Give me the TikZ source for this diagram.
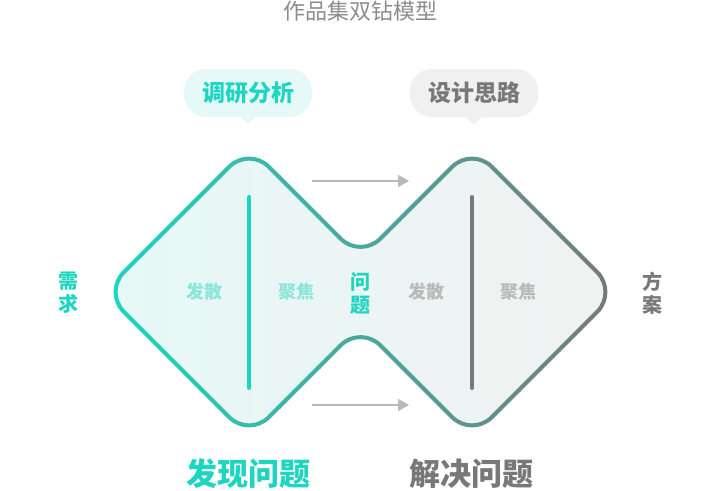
\documentclass[tikz,border=0pt]{standalone}
\usepackage{fontspec}
\setmainfont{Noto Sans CJK SC}
\usetikzlibrary{arrows.meta}

\definecolor{tuerkis}{RGB}{30,213,192}
\definecolor{grau}{RGB}{120,120,120}
\definecolor{tuerkisHell}{RGB}{140,230,218}
\definecolor{grauHell}{RGB}{186,186,186}
\definecolor{flaecheL}{RGB}{229,249,247}
\definecolor{flaecheR}{RGB}{241,241,241}
\definecolor{blaseT}{RGB}{229,249,248}
\definecolor{blaseG}{RGB}{240,240,240}
\definecolor{pfeilGrau}{RGB}{185,185,185}

% Umriss des Doppeldiamanten
\newcommand{\umriss}{(176.5,219.5) -- (249,147) -- (360.5,258.5) -- (472,147) -- (617,292) -- (472,437) -- (360.5,325.5) -- (249,437) -- (104,292) -- cycle}

\begin{document}
\begin{tikzpicture}
	[
	x=1pt, y=-1pt, >=latex,
	%Voreinstellungen
	blase/.style={rounded corners=22pt, minimum width=128pt, minimum height=48pt, inner sep=0pt, font=\bfseries\fontsize{23}{23}\selectfont},
	feld/.style={font=\bfseries\fontsize{18}{18}\selectfont},
	seite/.style={font=\bfseries\fontsize{20}{23}\selectfont, align=center},
	pfeil/.style={-{Triangle[length=11pt, width=12pt]}, pfeilGrau, line width=1.5pt}
	]
	\useasboundingbox (0,0) rectangle (720,490);
	%Titel
	\node[text=grau!85!white, font=\fontsize{22}{22}\selectfont, inner sep=1pt] (titel) at (360,11) {作品集双钻模型};
	%Fläche mit Verlauf
	\shade[left color=flaecheL, right color=flaecheR, rounded corners=28pt] \umriss;
	%Rand mit Verlauf, in Streifen
	\foreach \i in {0,...,26}
	{
		\pgfmathtruncatemacro{\anteil}{min(100,max(0,(\i*20+10-6)/513*100))}
		\begin{scope}
			\clip (100+\i*20,140) rectangle ++(20.5,305);
			\draw[line width=4pt, draw=grau!\anteil!tuerkis, rounded corners=28pt] \umriss;
		\end{scope}
	}
	%Trennlinien
	\coordinate (linksOben) at (249,197);
	\coordinate (linksUnten) at (249,388);
	\coordinate (rechtsOben) at (472,197);
	\coordinate (rechtsUnten) at (472,388);
	\draw[line width=4pt, tuerkis, line cap=round] (linksOben) -- (linksUnten);
	\draw[line width=4pt, grau, line cap=round] (rechtsOben) -- (rechtsUnten);
	%Pfeile
	\coordinate (obenStart) at (312,181);
	\coordinate (obenZiel) at (409,181);
	\coordinate (untenStart) at (312,405);
	\coordinate (untenZiel) at (409,405);
	\draw[pfeil] (obenStart) -- (obenZiel);
	\draw[pfeil] (untenStart) -- (untenZiel);
	%Sprechblasen
	\node[blase, fill=blaseT, text=tuerkis] (forschung) at (248,93) {调研分析};
	\fill[blaseT] ([xshift=-8pt]forschung.south) -- ([yshift=-7pt]forschung.south) -- ([xshift=8pt]forschung.south) -- cycle;
	\node[blase, fill=blaseG, text=grau] (entwurf) at (474,93) {设计思路};
	\fill[blaseG] ([xshift=-8pt]entwurf.south) -- ([yshift=-7pt]entwurf.south) -- ([xshift=8pt]entwurf.south) -- cycle;
	%Felder
	\node[feld, text=tuerkisHell] (divergenzA) at (204,292) {发散};
	\node[feld, text=tuerkisHell] (fokusA) at (296,292) {聚焦};
	\node[feld, text=grauHell] (divergenzB) at (426,292) {发散};
	\node[feld, text=grauHell] (fokusB) at (518,292) {聚焦};
	\node[seite, text=tuerkis] (problem) at (360,293) {问\\题};
	\node[seite, text=tuerkis] (bedarf) at (68,293) {需\\求};
	\node[seite, text=grau] (loesung) at (652,293) {方\\案};
	%Unterschriften
	\node[text=tuerkis, font=\bfseries\fontsize{31}{31}\selectfont] (finden) at (248,474) {发现问题};
	\node[text=grau, font=\bfseries\fontsize{31}{31}\selectfont] (loesen) at (471,474) {解决问题};
\end{tikzpicture}
\end{document}
